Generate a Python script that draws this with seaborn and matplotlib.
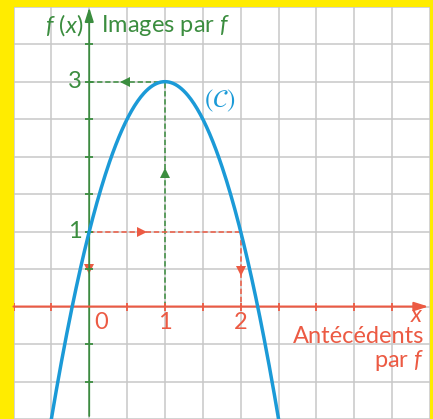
import numpy as np
import pandas as pd
import seaborn as sns
import matplotlib.pyplot as plt

# points read on the curve (antecedent -> image)
antecedents = [0, 1, 2]
images = [1, 3, 1]
x_min, x_max = -1.0, 4.5
y_min, y_max = -1.46, 4.0
grid_step = 0.5
x_tick_labels = ['0', '1', '2']
y_tick_labels = ['3', '1']

green = '#3b8d3f'
red = '#ec5a43'
blue = '#1b9ad7'
yellow = '#ffec00'
grey = '#c7c7c7'

sns.set_theme(style='white')
plt.rcParams['font.family'] = ['Lato', 'DejaVu Sans']
plt.rcParams['mathtext.fontset'] = 'custom'
plt.rcParams['mathtext.rm'] = 'Lato'
plt.rcParams['mathtext.it'] = 'Lato:italic'

# parabola through the three read points
coefs = np.polyfit(antecedents, images, 2)
xs = np.linspace(x_min, x_max, 400)
curve = pd.DataFrame({'x': xs, 'y': np.polyval(coefs, xs)})

fig = plt.figure(figsize=(4.33, 4.19), dpi=100, facecolor=yellow)
ax = fig.add_axes([13.5 / 433, 0, 416.5 / 433, 412.3 / 419])
ax.set_facecolor('white')
ax.set_xlim(x_min, x_max)
ax.set_ylim(y_min, y_max)
for s in ax.spines.values():
    s.set_visible(False)

# grid
gx = np.arange(x_min, x_max + 0.01, grid_step)
gy = np.arange(-1.5, y_max + 0.01, grid_step)
ax.set_xticks(gx)
ax.set_yticks(gy)
ax.tick_params(length=0, labelbottom=False, labelleft=False)
ax.grid(True, color=grey, lw=1.1)

# dashed reading lines
dash = dict(lw=1.1, ls=(0, (3.5, 1.8)))
ax.plot([1, 1], [0, 3], color=green, **dash)
ax.plot([0, 1], [3, 3], color=green, **dash)
ax.plot([0, 2], [1, 1], color=red, **dash)
ax.plot([2, 2], [1, 0], color=red, **dash)
ax.plot(1, 1.78, marker='^', color=green, ms=7, mew=0)
ax.plot(0.47, 3, marker='<', color=green, ms=7, mew=0)
ax.plot(0.7, 1, marker='>', color=red, ms=7, mew=0)
ax.plot(2, 0.47, marker='v', color=red, ms=7, mew=0)
ax.plot(0, 0.5, marker='v', color=red, ms=7, mew=0)

# axes with arrows
ax.annotate('', xy=(0, 3.99), xytext=(0, y_min), zorder=3,
            arrowprops=dict(arrowstyle='-|>,head_length=0.7,head_width=0.22', color=green, lw=1.3, shrinkA=0, shrinkB=0))
ax.annotate('', xy=(4.48, 0), xytext=(x_min, 0), zorder=3,
            arrowprops=dict(arrowstyle='-|>,head_length=0.7,head_width=0.22', color=red, lw=1.5, shrinkA=0, shrinkB=0))
tx = [v for v in gx if v not in (0,) and v < 4.4]
ax.plot(tx, [0] * len(tx), ls='none', marker='|', ms=6, mew=1.3, color=red, zorder=3)
ty = [v for v in gy if v != 0 and y_min < v < 3.9]
ax.plot([0] * len(ty), ty, ls='none', marker='_', ms=6, mew=1.3, color=green, zorder=3)

# curve
sns.lineplot(data=curve, x='x', y='y', color=blue, lw=2.5, ax=ax, zorder=4)
ax.set_xlabel('')
ax.set_ylabel('')

# labels
fs = 17
ax.text(-0.08, 3.66, r'$f\ (x)$', color=green, fontsize=fs, ha='right', va='baseline')
ax.text(0.15, 3.66, r'Images par $f$', color=green, fontsize=fs, ha='left', va='baseline')
ax.text(-0.1, 3, y_tick_labels[0], color=green, fontsize=fs, ha='right', va='center')
ax.text(-0.1, 1, y_tick_labels[1], color=green, fontsize=fs, ha='right', va='center')
ax.text(0.16, -0.21, x_tick_labels[0], color=red, fontsize=fs, ha='center', va='center')
ax.text(1, -0.21, x_tick_labels[1], color=red, fontsize=fs, ha='center', va='center')
ax.text(2, -0.21, x_tick_labels[2], color=red, fontsize=fs, ha='center', va='center')
ax.text(4.42, -0.2, r'$x$', color=red, fontsize=fs, ha='right', va='baseline')
ax.text(4.42, -0.49, 'Antécédents', color=red, fontsize=fs, ha='right', va='baseline')
ax.text(4.42, -0.81, r'par $f$', color=red, fontsize=fs, ha='right', va='baseline')
ax.text(1.52, 2.74, r'$(\mathcal{C})$', color=blue, fontsize=18, ha='left', va='center',
        math_fontfamily='stix')

fig.savefig('out.png', dpi=100, facecolor=yellow)
